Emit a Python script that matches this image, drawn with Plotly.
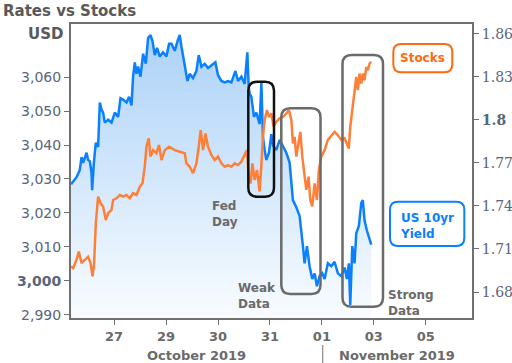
import plotly.graph_objects as go

# ---------------- data ----------------
title_text = "Rates vs Stocks"
day_ticks = [0, 1, 2, 3, 4, 5, 6]
day_labels = ["27", "29", "30", "31", "01", "03", "05"]
month_labels = ["October 2019", "November 2019"]

stock_ticks = [2990, 3000, 3010, 3020, 3030, 3040, 3050, 3060]
stock_labels = ["2,990", "<b>3,000</b>", "3,010", "3,020", "3,030", "3,040", "3,050", "3,060"]
yield_ticks = [1.68, 1.71, 1.74, 1.77, 1.80, 1.83, 1.86]
yield_labels = ["1.68", "1.71", "1.74", "1.77", "<b>1.8</b>", "1.83", "1.86"]

# US 10yr yield (session units on x)
yield_x = [-0.83, -0.723, -0.660, -0.627, -0.596, -0.531, -0.5, -0.467, -0.435, -0.423,
           -0.390, -0.352, -0.308, -0.275, -0.242, -0.212, -0.179, -0.115, -0.05, 0.013,
           0.077, 0.123, 0.173, 0.238, 0.288, 0.335, 0.365, 0.398, 0.431, 0.462,
           0.508, 0.558, 0.610, 0.654, 0.700, 0.738, 0.783, 0.827, 0.879, 0.942,
           1.008, 1.058,
           1.104, 1.167, 1.231, 1.263, 1.296, 1.360, 1.412, 1.456, 1.519, 1.585,
           1.629, 1.681, 1.744, 1.808, 1.904, 1.950, 2.0, 2.065, 2.129, 2.192,
           2.258, 2.335, 2.385, 2.45, 2.513, 2.565, 2.590,
           2.610, 2.642, 2.673, 2.692, 2.738, 2.802, 2.835, 2.865, 2.898, 2.931,
           2.981, 3.027, 3.058, 3.123, 3.187, 3.25, 3.315, 3.379, 3.412, 3.442,
           3.508, 3.571, 3.635, 3.667, 3.712, 3.763, 3.815, 3.860, 3.904, 3.956,
           4.008, 4.052, 4.115, 4.181, 4.244, 4.308, 4.373, 4.437, 4.481, 4.519,
           4.546, 4.585, 4.629, 4.662, 4.712, 4.758, 4.788, 4.821, 4.865, 4.904, 4.95]
yield_y = [1.755, 1.760, 1.765, 1.774, 1.770, 1.777, 1.772, 1.771, 1.763, 1.751,
           1.770, 1.784, 1.781, 1.812, 1.807, 1.805, 1.798, 1.800, 1.798, 1.805,
           1.802, 1.815, 1.814, 1.812, 1.816, 1.810, 1.830, 1.840, 1.832, 1.837,
           1.830, 1.846, 1.839, 1.857, 1.859, 1.855, 1.845, 1.850, 1.844, 1.847,
           1.844, 1.853,
           1.853, 1.848, 1.856, 1.859, 1.851, 1.836, 1.827, 1.832, 1.829, 1.834,
           1.845, 1.837, 1.839, 1.836, 1.839, 1.840, 1.831, 1.827, 1.826, 1.827,
           1.826, 1.834, 1.827, 1.830, 1.825, 1.847, 1.823,
           1.818, 1.816, 1.807, 1.802, 1.805, 1.797, 1.826, 1.788, 1.779, 1.772,
           1.777, 1.790, 1.782, 1.779, 1.786, 1.781, 1.777, 1.770, 1.753, 1.744,
           1.739, 1.733, 1.712, 1.700, 1.712, 1.698, 1.689, 1.693, 1.684, 1.691,
           1.693, 1.689, 1.700, 1.698, 1.701, 1.693, 1.691, 1.697, 1.689, 1.700,
           1.671, 1.712, 1.700, 1.721, 1.726, 1.742, 1.744, 1.730, 1.723, 1.719, 1.713]

# Stocks (USD)
stock_x = [-0.83, -0.788, -0.723, -0.679, -0.627, -0.563, -0.5, -0.454, -0.415, -0.385,
           -0.352, -0.308, -0.262, -0.212, -0.160, -0.115, -0.05, -0.019, 0.046, 0.110,
           0.173, 0.238, 0.302, 0.365, 0.431, 0.494, 0.546, 0.590, 0.623, 0.667,
           0.700, 0.75, 0.815, 0.865, 0.912, 0.975, 1.058, 1.167, 1.263, 1.360,
           1.392, 1.456, 1.519, 1.585, 1.629, 1.667, 1.712, 1.758, 1.808, 1.873,
           1.937, 2.0, 2.065, 2.129, 2.192, 2.258, 2.321, 2.385, 2.45, 2.513,
           2.558, 2.590, 2.629, 2.662, 2.706, 2.75, 2.788, 2.802, 2.835, 2.865,
           2.898, 2.942, 2.981, 3.027, 3.071, 3.123, 3.187, 3.25, 3.315, 3.365,
           3.412, 3.442, 3.475, 3.508, 3.538, 3.585, 3.623, 3.667, 3.7, 3.744,
           3.777, 3.815, 3.860, 3.904, 3.942, 3.988, 4.052, 4.115, 4.181, 4.244,
           4.308, 4.373, 4.437, 4.481, 4.519, 4.546, 4.585, 4.629, 4.662, 4.692,
           4.725, 4.758, 4.788, 4.821, 4.854, 4.885, 4.917, 4.95]
stock_y = [3004.2, 3003.7, 3006.2, 3008.6, 3005.2, 3006.2, 3007.1, 3005.2, 3001.3, 3005.2,
           3017.0, 3024.8, 3022.9, 3021.9, 3017.9, 3019.9, 3020.9, 3023.8, 3024.3, 3025.3,
           3024.8, 3025.3, 3024.3, 3025.8, 3025.3, 3027.7, 3028.7, 3033.6, 3039.5, 3042.0,
           3036.6, 3038.5, 3037.6, 3040.0, 3035.6, 3038.5, 3039.5, 3038.5, 3038.0, 3037.6,
           3034.6, 3033.6, 3031.7, 3034.6, 3039.5, 3044.4, 3038.5, 3043.4, 3039.5, 3037.1,
           3035.6, 3036.6, 3034.6, 3033.6, 3034.1, 3033.6, 3034.6, 3034.1, 3035.1, 3037.1,
           3038.5, 3030.7, 3028.7, 3034.6, 3029.7, 3032.6, 3027.7, 3026.3, 3034.1, 3042.4,
           3047.4, 3050.3, 3048.3, 3049.3, 3045.4, 3046.9, 3047.9, 3048.3, 3049.3, 3050.3,
           3047.4, 3040.5, 3042.4, 3036.6, 3039.5, 3043.9, 3036.6, 3031.7, 3026.8, 3030.7,
           3023.8, 3021.9, 3028.7, 3023.8, 3032.6, 3036.6, 3038.5, 3041.5, 3042.9, 3043.9,
           3042.9, 3041.5, 3042.0, 3040.5, 3039.0, 3045.4, 3050.3, 3057.1, 3060.1, 3056.2,
           3061.1, 3058.1, 3061.1, 3059.1, 3063.0, 3062.1, 3064.0, 3064.5]

# ---------------- layout helpers ----------------
W, H = 512, 363
ML, MR, MT, MB = 71, 40, 24, 45
PW = W - ML - MR
PH = H - MT - MB


def px(x):
    return (x - ML) / PW


def py(y):
    return (MT + PH - y) / PH


def rrect(x0, y0, x1, y1, r):
    pts = [
        ("M", [(x0 + r, y0)]), ("L", [(x1 - r, y0)]), ("Q", [(x1, y0), (x1, y0 + r)]),
        ("L", [(x1, y1 - r)]), ("Q", [(x1, y1), (x1 - r, y1)]),
        ("L", [(x0 + r, y1)]), ("Q", [(x0, y1), (x0, y1 - r)]),
        ("L", [(x0, y0 + r)]), ("Q", [(x0, y0), (x0 + r, y0)]),
    ]
    s = ""
    for cmd, ps in pts:
        s += cmd + " " + " ".join(f"{px(a):.5f},{py(b):.5f}" for a, b in ps) + " "
    return s + "Z"


BLUE = "#0a80ff"
ORANGE = "#ff7f36"
TICKC = "#59657a"
GRAY = "#6a6a6a"
AX = "#707070"

fig = go.Figure()
fig.add_trace(go.Scatter(
    x=yield_x, y=yield_y, mode="lines", yaxis="y",
    line=dict(color=BLUE, width=2.5),
    fill="tozeroy",
    fillgradient=dict(type="vertical",
                      colorscale=[[0, "rgb(249,252,255)"], [1, "rgb(172,210,248)"]],
                      start=1.662, stop=1.86),
    hoverinfo="skip", showlegend=False))
fig.add_trace(go.Scatter(
    x=stock_x, y=stock_y, mode="lines", yaxis="y2",
    line=dict(color=ORANGE, width=2.5),
    hoverinfo="skip", showlegend=False))

shapes = [
    dict(type="path", xref="paper", yref="paper", path=rrect(248.3, 81.7, 274, 196.7, 9),
         line=dict(color="#111111", width=2.5), layer="above"),
    dict(type="path", xref="paper", yref="paper", path=rrect(281.3, 108.3, 320.5, 294, 9),
         line=dict(color=GRAY, width=2.5), layer="above"),
    dict(type="path", xref="paper", yref="paper", path=rrect(342.5, 55, 383, 306.7, 9),
         line=dict(color=GRAY, width=2.5), layer="above"),
    dict(type="path", xref="paper", yref="paper", path=rrect(393.3, 44, 452.3, 72.3, 8),
         line=dict(color="#ff6a0c", width=2), fillcolor="white", layer="above"),
    dict(type="path", xref="paper", yref="paper", path=rrect(390, 201.7, 464.3, 246, 8),
         line=dict(color=BLUE, width=2), fillcolor="white", layer="above"),
    dict(type="line", xref="paper", yref="paper", x0=px(322.7), x1=px(322.7),
         y0=py(345), y1=py(363), line=dict(color="#888888", width=1.2)),
]


def ann(text, x, y, size=12, color=GRAY, xanchor="left", align="left"):
    return dict(text=text, x=px(x), y=py(y), xref="paper", yref="paper",
                xanchor=xanchor, yanchor="middle", align=align, showarrow=False,
                borderpad=0, borderwidth=0,
                font=dict(family="DejaVu Sans", size=size, color=color, weight="bold"))


annotations = [
    ann(title_text, 3, 11, size=15, color="#595959"),
    ann("USD", 63, 34, size=15, color="#595959", xanchor="right"),
    ann("Stocks", 422.8, 58.3, color="#ff6a0c", xanchor="center"),
    ann("US 10yr<br>Yield", 400, 226, color=BLUE),
    ann("Fed<br>Day", 212, 213.5),
    ann("Weak<br>Data", 237.5, 296),
    ann("Strong<br>Data", 388, 303),
    ann(month_labels[0], 196.3, 355, size=13, xanchor="center"),
    ann(month_labels[1], 396.5, 355, size=13, xanchor="center"),
]

fig.update_layout(
    template="none",
    width=W, height=H,
    margin=dict(l=ML, r=MR, t=MT, b=MB, pad=0, autoexpand=False),
    paper_bgcolor="white", plot_bgcolor="white",
    showlegend=False,
    shapes=shapes, annotations=annotations,
    xaxis=dict(range=[-0.83, 6.89], tickmode="array", tickvals=day_ticks, ticktext=day_labels,
               ticks="outside", ticklen=5, tickwidth=1.2, tickcolor=AX, automargin=False,
               showline=True, linecolor=AX, linewidth=2, mirror=True,
               showgrid=False, zeroline=False,
               tickfont=dict(family="DejaVu Sans", size=13, color=GRAY, weight="bold")),
    yaxis=dict(side="right", range=[1.6619, 1.8667], tickmode="array",
               tickvals=yield_ticks, ticktext=yield_labels, automargin=False,
               ticks="outside", ticklen=5, tickwidth=1.2, tickcolor=AX,
               showline=True, linecolor=AX, linewidth=2,
               showgrid=False, zeroline=False,
               tickfont=dict(family="DejaVu Serif", size=14, color=TICKC)),
    yaxis2=dict(overlaying="y", side="left", anchor="x", range=[2989.0, 3075.7],
                tickmode="array", tickvals=stock_ticks, ticktext=stock_labels,
                ticks="outside", ticklen=5, tickwidth=1.2, tickcolor=AX, automargin=False,
                showline=True, linecolor=AX, linewidth=2,
                showgrid=False, zeroline=False,
                tickfont=dict(family="DejaVu Sans", size=14, color=TICKC)),
)

fig.write_html("out.html", config={"displayModeBar": False},
               post_script="document.body.style.margin='0';document.body.style.overflow='hidden';")
